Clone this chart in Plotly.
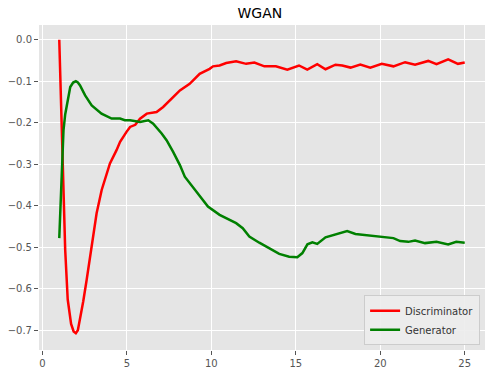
import plotly.graph_objects as go

disc_x = [1.0, 1.08, 1.16, 1.19, 1.27, 1.35, 1.5, 1.7, 1.85, 1.98, 2.1, 2.23, 2.42, 2.62, 2.92, 3.21, 3.51, 3.75, 4.0, 4.39, 4.6, 4.98,
          5.19, 5.5, 5.78, 6.18, 6.76, 7.15, 7.55, 8.14, 8.72, 9.31, 9.9, 10.1, 10.49, 10.88, 11.47, 12.06, 12.55, 13.14,
          13.82, 14.5, 15.19, 15.68, 16.27, 16.76, 17.35, 17.75, 18.24, 18.82, 19.41, 20.09, 20.78, 21.47, 22.06, 22.84,
          23.33, 24.02, 24.6, 25.0]
disc_y = [0.0, -0.12, -0.218, -0.30, -0.42, -0.506, -0.626, -0.685, -0.703, -0.707, -0.700, -0.675, -0.630, -0.579, -0.499, -0.418,
          -0.362, -0.33, -0.298, -0.266, -0.246, -0.222, -0.21, -0.205, -0.19, -0.178, -0.174, -0.162, -0.146, -0.122, -0.106,
          -0.082, -0.070, -0.064, -0.062, -0.056, -0.052, -0.058, -0.055, -0.064, -0.064, -0.072, -0.062, -0.072, -0.059,
          -0.071, -0.060, -0.062, -0.067, -0.060, -0.067, -0.058, -0.064, -0.054, -0.060, -0.051, -0.059, -0.047, -0.058,
          -0.055]

gen_x = [1.0, 1.08, 1.15, 1.25, 1.35, 1.45, 1.65, 1.82, 1.98, 2.1, 2.23, 2.53, 2.92, 3.5, 4.1, 4.6, 4.88, 5.19, 5.78, 6.27,
         6.56, 7.06, 7.35, 7.74, 8.14, 8.43, 8.82, 9.31, 9.8, 10.49, 11.08, 11.47, 11.86, 12.25, 12.84, 13.43, 14.02,
         14.61, 15.09, 15.39, 15.69, 15.98, 16.27, 16.76, 17.45, 18.04, 18.53, 18.92, 19.51, 20.09, 20.78, 21.18, 21.66,
         22.06, 22.65, 23.33, 24.02, 24.5, 25.0]
gen_y = [-0.478, -0.38, -0.298, -0.218, -0.18, -0.158, -0.114, -0.103, -0.100, -0.103, -0.110, -0.134, -0.158, -0.178,
         -0.19, -0.19, -0.194, -0.194, -0.198, -0.194, -0.202, -0.226, -0.242, -0.27, -0.302, -0.33, -0.35, -0.376,
         -0.402, -0.422, -0.434, -0.442, -0.454, -0.474, -0.489, -0.502, -0.516, -0.523, -0.524, -0.514, -0.493, -0.488,
         -0.492, -0.476, -0.467, -0.461, -0.468, -0.470, -0.472, -0.476, -0.478, -0.485, -0.487, -0.484, -0.490, -0.487,
         -0.493, -0.487, -0.489]

fig = go.Figure()
fig.add_trace(go.Scatter(x=disc_x, y=disc_y, mode="lines", name="Discriminator",
                         line=dict(color="red", width=2.5)))
fig.add_trace(go.Scatter(x=gen_x, y=gen_y, mode="lines", name="Generator",
                         line=dict(color="green", width=2.5)))

axis_common = dict(showgrid=True, gridcolor="white", gridwidth=1, zeroline=False,
                   ticks="outside", ticklen=4, tickcolor="#555555",
                   tickfont=dict(family="DejaVu Sans", size=10, color="#555555"),
                   showline=False, automargin=False)
fig.update_xaxes(range=[-0.2, 26.2], tickvals=[0, 5, 10, 15, 20, 25], **axis_common)
fig.update_yaxes(range=[-0.7476, 0.0356], tickvals=[0.0, -0.1, -0.2, -0.3, -0.4, -0.5, -0.6, -0.7],
                 tickformat=".1f", **axis_common)

fig.update_layout(
    width=495, height=374,
    margin=dict(l=39, r=10, t=25, b=24, autoexpand=False),
    paper_bgcolor="white", plot_bgcolor="#E5E5E5",
    title=dict(text="WGAN", x=0.525, xanchor="center", y=0.965, yanchor="middle",
               font=dict(family="DejaVu Sans", size=14, color="black"), automargin=False),
    legend=dict(x=0.989, y=0.015, xanchor="right", yanchor="bottom",
                bgcolor="rgba(236,236,236,0.9)", bordercolor="#cccccc", borderwidth=1,
                font=dict(family="DejaVu Sans", size=10, color="#333333"),
                itemwidth=30, tracegroupgap=0),
    showlegend=True,
)

# remove the page's default 8px body margin so the figure sits at the window's corner
fig.write_html("out.html", config={"displayModeBar": False},
               post_script="document.body.style.margin='0';document.body.style.overflow='hidden';")
